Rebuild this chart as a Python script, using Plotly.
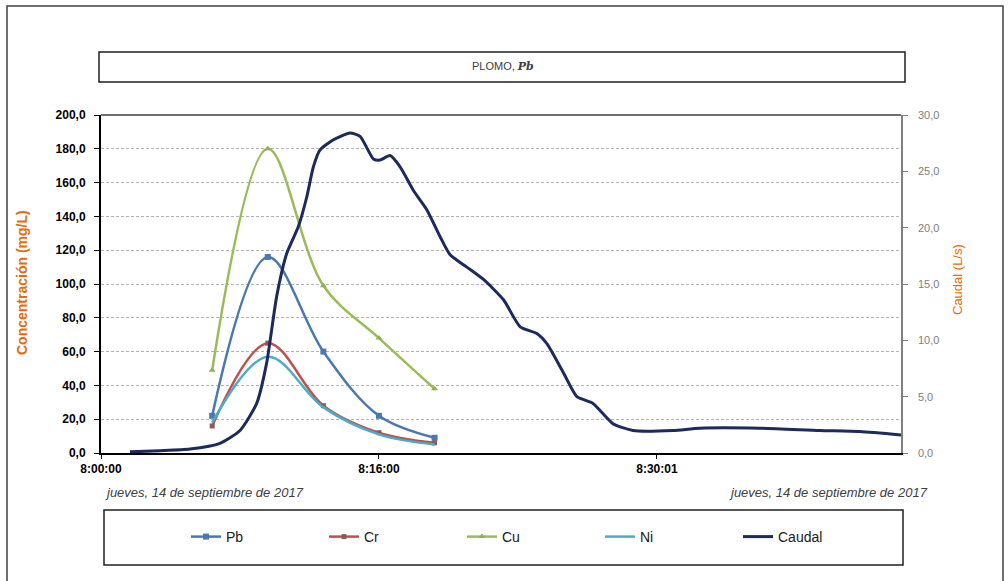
import plotly.graph_objects as go
from plotly.subplots import make_subplots

# ---- data ----
muestra_pos = [2, 3, 4, 5, 6]          # sample positions on the category-like time axis
pb = [22, 116, 60, 22, 9]
cr = [16, 65, 28, 12, 6]
cu = [49, 180, 99, 68, 38]
ni = [18, 57, 27, 11, 5]

caudal_pos = [0.52, 1.06, 1.60, 2.14, 2.50, 2.80, 2.98, 3.16, 3.34, 3.55, 3.70, 3.82,
              3.94, 4.18, 4.48, 4.66, 4.90, 5.02, 5.20, 5.38, 5.62, 5.86, 6.10, 6.28,
              6.58, 6.88, 7.24, 7.54, 7.84, 8.02, 8.32, 8.56, 8.85, 9.21, 9.57, 10.29,
              10.77, 11.85, 12.93, 13.65, 14.39]
caudal = [0.1, 0.2, 0.35, 0.86, 2.0, 4.4, 8.0, 13.9, 17.7, 20.1, 22.7, 25.4,
          26.9, 27.8, 28.4, 28.1, 26.1, 26.0, 26.4, 25.4, 23.3, 21.6, 19.2, 17.6,
          16.5, 15.4, 13.6, 11.2, 10.6, 9.7, 7.1, 5.0, 4.4, 2.6, 2.0, 2.0,
          2.2, 2.2, 2.0, 1.9, 1.6]

tick_pos = [0, 5, 10]
tick_labels = ["8:00:00", "8:16:00", "8:30:01"]
fecha = "jueves, 14 de septiembre de 2017"

# ---- geometry helpers (pixel -> paper) ----
W, H = 1008, 581
L, R, T, B = 101, 901, 115, 453
def px(x):
    return (x - L) / (R - L)
def py(y):
    return (B - y) / (B - T)

fig = make_subplots(specs=[[{"secondary_y": True}]])

fig.add_trace(go.Scatter(x=muestra_pos, y=pb, name="Pb", mode="lines+markers",
                         line=dict(color="#4a78b0", width=2.5, shape="spline"),
                         marker=dict(symbol="square", size=6, color="#4a78b0")), secondary_y=False)
fig.add_trace(go.Scatter(x=muestra_pos, y=cr, name="Cr", mode="lines+markers",
                         line=dict(color="#c0504d", width=2.5, shape="spline"),
                         marker=dict(symbol="square", size=5, color="#8c5a5a")), secondary_y=False)
fig.add_trace(go.Scatter(x=muestra_pos, y=cu, name="Cu", mode="lines+markers",
                         line=dict(color="#9bbb59", width=2.5, shape="spline"),
                         marker=dict(symbol="triangle-up", size=6, color="#93ad55")), secondary_y=False)
fig.add_trace(go.Scatter(x=muestra_pos, y=ni, name="Ni", mode="lines",
                         line=dict(color="#4bacc6", width=2.5, shape="spline")), secondary_y=False)
fig.add_trace(go.Scatter(x=caudal_pos, y=caudal, name="Caudal", mode="lines",
                         line=dict(color="#1c2a5c", width=3, shape="spline", smoothing=0.6)),
              secondary_y=True)

fig.update_xaxes(domain=[0, 1], range=[0, 14.39], tickvals=tick_pos, ticktext=tick_labels,
                 showline=True, linecolor="black", linewidth=1.5, ticks="outside",
                 ticklen=4, tickcolor="black", showgrid=False, zeroline=False,
                 tickfont=dict(family="Liberation Sans", size=12, color="black", weight="bold"))
fig.update_yaxes(range=[0, 200], dtick=20, tickformat=".1f", secondary_y=False,
                 showline=True, linecolor="black", linewidth=2, ticks="outside",
                 ticklen=5, tickcolor="black", showgrid=True, gridcolor="#b4b4b4",
                 griddash="3px,2px", gridwidth=1, zeroline=False, ticklabelstandoff=6,
                 tickfont=dict(family="Liberation Sans", size=12, color="black", weight="bold"))
fig.update_yaxes(range=[0, 30], dtick=5, tickformat=".1f", secondary_y=True,
                 showline=True, linecolor="#808080", linewidth=1.5, ticks="outside",
                 ticklen=5, tickcolor="#808080", showgrid=False, zeroline=False,
                 ticklabelstandoff=8,
                 tickfont=dict(family="Liberation Sans", size=11, color="#808080"))

shapes = [
    # outer frame
    dict(type="rect", xref="paper", yref="paper", x0=px(7), x1=px(1003), y0=py(590), y1=py(6),
         line=dict(color="#404040", width=1.5)),
    # title box
    dict(type="rect", xref="paper", yref="paper", x0=px(99), x1=px(905), y0=py(82), y1=py(52),
         line=dict(color="#202020", width=1.5)),
    # legend box
    dict(type="rect", xref="paper", yref="paper", x0=px(104), x1=px(903), y0=py(565), y1=py(510),
         line=dict(color="#202020", width=1.5)),
    # top plot border
    dict(type="line", xref="paper", yref="paper", x0=0, x1=1, y0=1, y1=1,
         line=dict(color="#404040", width=1.5)),
]

def note(text, x, y, font, angle=0):
    return dict(text=text, xref="paper", yref="paper", x=px(x), y=py(y),
                xanchor="center", yanchor="middle", textangle=angle,
                showarrow=False, font=font)

annotations = [
    note("PLOMO, <span style='font-family:DejaVu Serif'><b><i>Pb</i></b></span>", 503, 66,
         dict(family="Liberation Sans", size=11, color="#404040")),
    note(fecha, 204, 492, dict(family="Liberation Sans", size=13, color="#404040", style="italic")),
    note(fecha, 828, 492, dict(family="Liberation Sans", size=13, color="#404040", style="italic")),
    note("Concentración (mg/L)", 22, 283,
         dict(family="Liberation Sans", size=14, color="#e46c0a", weight="bold"), -90),
    note("Caudal (L/s)", 957, 280,
         dict(family="Liberation Sans", size=13, color="#e46c0a"), -90),
]

fig.update_layout(
    width=W, height=H,
    margin=dict(l=L, r=W - R, t=T, b=H - B, autoexpand=False),
    paper_bgcolor="white", plot_bgcolor="white",
    separators=",.",
    showlegend=True,
    legend=dict(orientation="h", x=px(186), y=py(537), xanchor="left", yanchor="middle",
                entrywidth=93, entrywidthmode="pixels", itemwidth=30,
                bgcolor="rgba(0,0,0,0)", borderwidth=0,
                font=dict(family="Liberation Sans", size=14, color="#202020")),
    shapes=shapes,
    annotations=annotations,
)

fig.write_html("out.html", config={"displayModeBar": False},
               post_script="document.body.style.margin='0px';")
